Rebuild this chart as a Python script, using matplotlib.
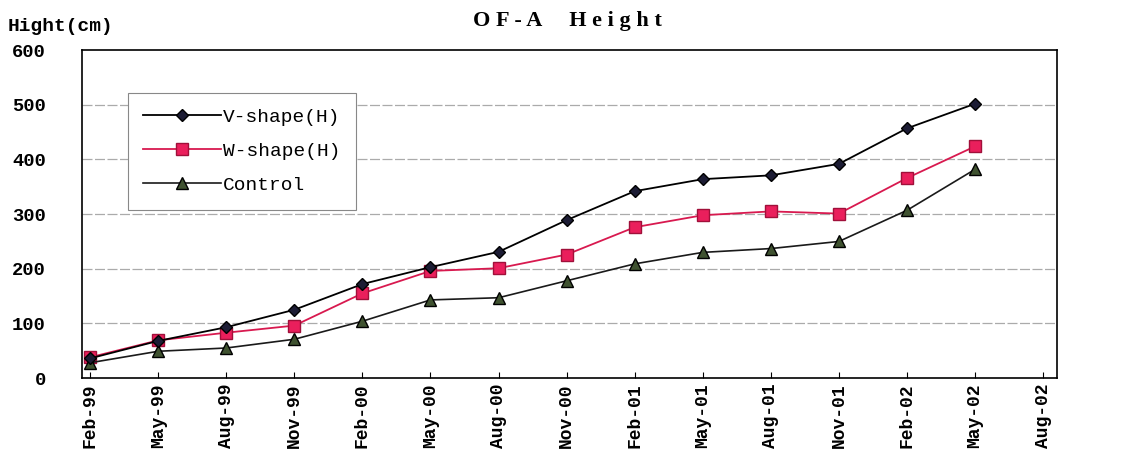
import matplotlib
matplotlib.use("Agg")
from matplotlib import pyplot as plt
import numpy as np

# Data (cm)
months = ["Feb-99", "May-99", "Aug-99", "Nov-99", "Feb-00", "May-00", "Aug-00",
          "Nov-00", "Feb-01", "May-01", "Aug-01", "Nov-01", "Feb-02", "May-02", "Aug-02"]
v_shape = [36, 68, 93, 125, 172, 203, 231, 289, 342, 364, 371, 392, 457, 502]
w_shape = [38, 69, 83, 96, 155, 196, 201, 226, 276, 298, 305, 301, 366, 424]
control = [28, 49, 55, 71, 104, 143, 147, 178, 209, 230, 237, 250, 307, 382]

mono = "Liberation Mono"

fig = plt.figure(figsize=(11.23, 4.65), dpi=100)
ax = fig.add_axes([0.073, 0.187, 0.868, 0.705])

x = np.arange(len(v_shape))

#Lines
ax.plot(x, v_shape, color="black", lw=1.3, marker="D", ms=6,
        mfc="#1c1c34", mec="black", label="V-shape(H)", zorder=4)
ax.plot(x, w_shape, color="#d8194f", lw=1.3, marker="s", ms=9,
        mfc="#ea1f5c", mec="#a0103a", label="W-shape(H)", zorder=3)
ax.plot(x, control, color="#1a1a1a", lw=1.2, marker="^", ms=8,
        mfc="#3f5230", mec="black", label="Control", zorder=3)

#Axes
ax.set_xlim(-0.12, 14.2)
ax.set_ylim(0, 600)
ax.set_xticks(np.arange(len(months)))
ax.set_xticklabels(months, rotation=90, fontfamily=mono, fontweight="bold", fontsize=13)
ax.set_yticks(range(0, 601, 100))
ax.set_yticklabels([str(v) for v in range(0, 601, 100)], fontfamily=mono,
                   fontweight="bold", fontsize=13.5)
ax.tick_params(axis="y", length=0, pad=26)
ax.tick_params(axis="x", direction="in", length=4, pad=4)

for yv in range(100, 600, 100):
    ax.axhline(yv, color="#ababab", lw=0.9, ls=(0, (8, 2)), zorder=1)

for s in ax.spines.values():
    s.set_color("black")
    s.set_linewidth(1.2)

#Legend
leg = ax.legend(loc="upper left", bbox_to_anchor=(0.047, 0.87), borderaxespad=0,
                prop={"family": mono, "size": 14},
                handlelength=4.0, handletextpad=0.1, borderpad=0.8, labelspacing=0.85,
                fancybox=False, framealpha=1, edgecolor="#888888")
leg.get_frame().set_linewidth(0.8)

#Titles
fig.text(0.505, 0.955, "O F - A     H e i g h t", ha="center", va="center",
         fontfamily="Liberation Serif", fontweight="bold", fontsize=16)
fig.text(0.007, 0.942, "Hight(cm)", ha="left", va="center",
         fontfamily=mono, fontweight="bold", fontsize=14)

fig.savefig("out.png", dpi=100)
